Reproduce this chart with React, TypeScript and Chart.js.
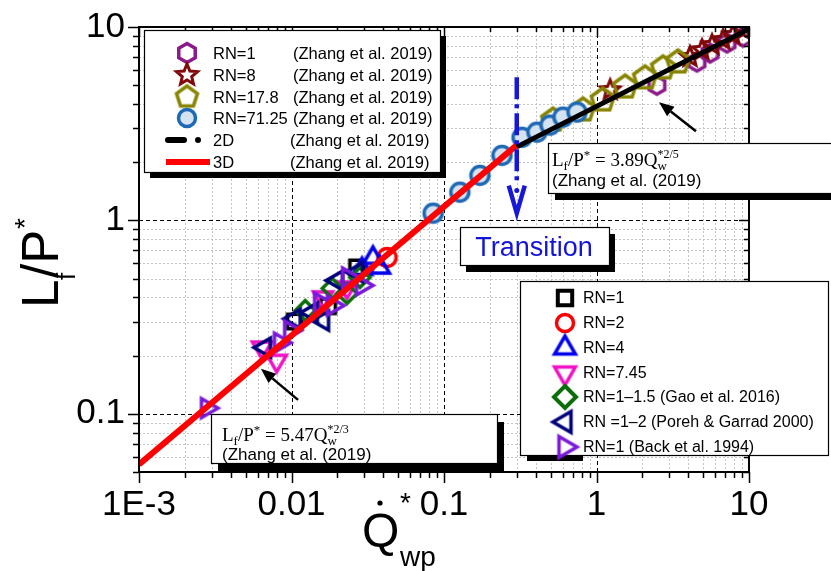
import React, { useEffect, useRef } from 'react';
import { Chart, registerables } from 'chart.js';

Chart.register(...registerables);

const W = 831;
const H = 571;
const SANS = "'Liberation Sans', Arial, Helvetica, sans-serif";
const SERIF = "'Liberation Serif', 'Times New Roman', serif";

// ---- axis ticks ----
const xMajorTicks = [0.001, 0.01, 0.1, 1, 10];
const xMajorLabels = ['1E-3', '0.01', '0.1', '1', '10'];
const yMajorTicks = [0.1, 1, 10];
const yMajorLabels = ['0.1', '1', '10'];

// ---- Zhang et al. 2019 ----
const zhangRN1X = [2.49, 4.56, 5.55, 7.17, 9.14];
const zhangRN1Y = [5.0, 6.59, 7.33, 8.26, 8.87];
const zhangRN8X = [1.23, 4.1, 4.92, 5.72, 6.76, 7.86, 9.14];
const zhangRN8Y = [4.72, 7.0, 7.6, 8.07, 8.57, 9.09, 9.65];
const zhangRN178X = [0.519, 0.815, 1.1, 1.54, 2.08, 2.73, 3.42];
const zhangRN178Y = [3.3, 3.72, 4.19, 4.89, 5.45, 6.14, 6.59];
const zhangRN7125X = [0.0848, 0.127, 0.172, 0.24, 0.325, 0.407, 0.496, 0.603, 0.745];
const zhangRN7125Y = [1.09, 1.4, 1.71, 2.17, 2.69, 2.86, 3.11, 3.42, 3.63];

// ---- fitted lines (end points) ----
const line3DX = [0.001, 0.3];
const line3DY = [0.0547, 2.45];
const line2DX = [0.3, 10];
const line2DY = [2.4, 9.77];
const transitionX = [0.3, 0.3];
const transitionY = [5.5, 1.55];
const transitionTipY = 1.09;

// ---- other experiments ----
const rn1X = [0.0105, 0.0174, 0.0269];
const rn1Y = [0.3, 0.36, 0.571];
const rn2X = [0.0423];
const rn2Y = [0.643];
const rn4X = [0.029, 0.0342, 0.038];
const rn4Y = [0.56, 0.64, 0.57];
const rn745X = [0.0064, 0.008, 0.0161, 0.0231];
const rn745Y = [0.22, 0.188, 0.4, 0.45];
const gaoX = [0.0123, 0.0185, 0.0231, 0.0281];
const gaoY = [0.342, 0.445, 0.419, 0.507];
const porehX = [0.0067, 0.0105, 0.0136, 0.0161, 0.0199, 0.0269];
const porehY = [0.22, 0.31, 0.334, 0.303, 0.489, 0.54];
const backX = [0.00279, 0.0084, 0.0098, 0.0154, 0.0187, 0.0235, 0.029];
const backY = [0.107, 0.233, 0.269, 0.376, 0.363, 0.507, 0.461];

// ---- annotation arrows (data coordinates: tail -> tip) ----
const arrow2DTail = [4.49, 2.89];
const arrow2DTip = [2.57, 4.08];
const arrow3DTail = [0.01104, 0.118];
const arrow3DTip = [0.0063, 0.171];

type Shape = 'square' | 'circle' | 'up' | 'down' | 'left' | 'right' | 'diamond' | 'hexagon' | 'pentagon' | 'star';

function shapePath(ctx: CanvasRenderingContext2D, shape: Shape, r: number) {
  ctx.beginPath();
  const poly = (n: number, rot: number) => {
    for (let i = 0; i < n; i++) {
      const a = rot + (i * 2 * Math.PI) / n;
      const px = r * Math.cos(a);
      const py = r * Math.sin(a);
      if (i === 0) ctx.moveTo(px, py);
      else ctx.lineTo(px, py);
    }
    ctx.closePath();
  };
  switch (shape) {
    case 'square':
      ctx.rect(-r * 0.8, -r * 0.8, r * 1.6, r * 1.6);
      break;
    case 'circle':
      ctx.arc(0, 0, r, 0, Math.PI * 2);
      break;
    case 'up':
      poly(3, -Math.PI / 2);
      break;
    case 'down':
      poly(3, Math.PI / 2);
      break;
    case 'left':
      poly(3, Math.PI);
      break;
    case 'right':
      poly(3, 0);
      break;
    case 'diamond':
      poly(4, -Math.PI / 2);
      break;
    case 'hexagon':
      poly(6, -Math.PI / 2);
      break;
    case 'pentagon':
      poly(5, -Math.PI / 2);
      break;
    case 'star':
      for (let i = 0; i < 10; i++) {
        const a = -Math.PI / 2 + (i * Math.PI) / 5;
        const rr = i % 2 === 0 ? r : r * 0.45;
        const px = rr * Math.cos(a);
        const py = rr * Math.sin(a);
        if (i === 0) ctx.moveTo(px, py);
        else ctx.lineTo(px, py);
      }
      ctx.closePath();
      break;
  }
}

function makeMarker(shape: Shape, color: string, r: number, lw: number, fill?: string) {
  const pad = lw + 3;
  const size = Math.ceil(2 * (r + pad));
  const c = document.createElement('canvas');
  c.width = size;
  c.height = size;
  const ctx = c.getContext('2d')!;
  ctx.translate(size / 2, size / 2);
  shapePath(ctx, shape, r);
  if (fill) {
    ctx.fillStyle = fill;
    ctx.fill();
  }
  ctx.lineWidth = lw;
  ctx.strokeStyle = color;
  ctx.lineJoin = 'miter';
  ctx.stroke();
  return c;
}

function labelFor(v: number, ticks: number[], labels: string[]) {
  const i = ticks.findIndex((t) => Math.abs(Math.log10(t) - Math.log10(v)) < 1e-6);
  return i >= 0 ? labels[i] : '';
}

function logValues(min: number, max: number) {
  const out: { v: number; major: boolean }[] = [];
  for (let e = Math.floor(Math.log10(min)) - 1; e <= Math.ceil(Math.log10(max)); e++) {
    for (let k = 1; k <= 9; k++) {
      const v = k * Math.pow(10, e);
      if (v >= min * 0.9999 && v <= max * 1.0001) out.push({ v, major: k === 1 });
    }
  }
  return out;
}

const pts = (xs: number[], ys: number[]) => xs.map((x, i) => ({ x, y: ys[i] }));

export default function App() {
  const ref = useRef<HTMLCanvasElement>(null);

  useEffect(() => {
    const canvas = ref.current!;

    const M = {
      zRN1: makeMarker('hexagon', '#8b1a8b', 9, 3.5),
      zRN8: makeMarker('star', '#7f0a0a', 10, 3),
      zRN178: makeMarker('pentagon', '#878500', 12, 3.5),
      zRN7125: makeMarker('circle', '#1f69b4', 9, 3.5, '#d4e2f1'),
      rn1: makeMarker('square', '#000000', 9, 3.5),
      rn2: makeMarker('circle', '#ff0000', 9, 3.5),
      rn4: makeMarker('up', '#0000f0', 11, 3.5),
      rn745: makeMarker('down', '#f012c4', 11, 3.5),
      gao: makeMarker('diamond', '#0b6e0b', 10, 3.5),
      poreh: makeMarker('left', '#00007a', 11, 3.5),
      back: makeMarker('right', '#7a1ad8', 11, 3.5),
    };
    const L = {
      zRN1: makeMarker('hexagon', '#8b1a8b', 9.5, 3.5),
      zRN8: makeMarker('star', '#7f0a0a', 11, 3),
      zRN178: makeMarker('pentagon', '#878500', 11, 3.5),
      zRN7125: makeMarker('circle', '#1f69b4', 8.5, 3.5, '#d4e2f1'),
      rn1: makeMarker('square', '#000000', 9, 4),
      rn2: makeMarker('circle', '#ff0000', 8.5, 3.5),
      rn4: makeMarker('up', '#0000f0', 12, 3.5),
      rn745: makeMarker('down', '#f012c4', 12, 3.5),
      gao: makeMarker('diamond', '#0b6e0b', 11, 4),
      poreh: makeMarker('left', '#00007a', 12, 3.5),
      back: makeMarker('right', '#7a1ad8', 12, 3.5),
    };

    const lineDs = (label: string, xs: number[], ys: number[], color: string, width: number, dash: number[] = []) => ({
      type: 'line' as const,
      label,
      data: pts(xs, ys),
      borderColor: color,
      borderWidth: width,
      borderDash: dash,
      pointRadius: 0,
      fill: false,
      tension: 0,
      order: 0,
    });
    const scatterDs = (label: string, xs: number[], ys: number[], img: HTMLCanvasElement) => ({
      type: 'scatter' as const,
      label,
      data: pts(xs, ys),
      pointStyle: img,
      pointRadius: 10,
      pointHoverRadius: 10,
      order: 1,
    });

    const decor = {
      id: 'decor',
      beforeDatasetsDraw(chart: any) {
        const { ctx, chartArea: a, scales } = chart;
        const xs = scales.x;
        const ys = scales.y;
        ctx.save();
        ctx.lineWidth = 1;
        const drawGrid = (major: boolean) => {
          ctx.strokeStyle = major ? '#000000' : '#c4c4c4';
          ctx.setLineDash(major ? [4, 3] : [2, 2]);
          for (const t of logValues(xs.min, xs.max)) {
            if (t.major !== major) continue;
            const p = Math.round(xs.getPixelForValue(t.v)) + 0.5;
            if (p <= a.left + 2 || p >= a.right - 2) continue;
            ctx.beginPath();
            ctx.moveTo(p, a.top);
            ctx.lineTo(p, a.bottom);
            ctx.stroke();
          }
          for (const t of logValues(ys.min, ys.max)) {
            if (t.major !== major) continue;
            const p = Math.round(ys.getPixelForValue(t.v)) + 0.5;
            if (p <= a.top + 2 || p >= a.bottom - 2) continue;
            ctx.beginPath();
            ctx.moveTo(a.left, p);
            ctx.lineTo(a.right, p);
            ctx.stroke();
          }
        };
        drawGrid(false);
        drawGrid(true);
        ctx.restore();
      },
      afterDraw(chart: any) {
        const { ctx, chartArea: a, scales } = chart;
        const xs = scales.x;
        const ys = scales.y;
        ctx.save();
        ctx.setLineDash([]);

        // transition arrow head
        const tx = xs.getPixelForValue(transitionX[0]);
        const tTop = ys.getPixelForValue(transitionY[1]) + 2;
        const tTip = ys.getPixelForValue(transitionTipY);
        ctx.strokeStyle = '#1717d8';
        ctx.fillStyle = '#1717d8';
        ctx.lineWidth = 4.5;
        ctx.lineJoin = 'miter';
        ctx.beginPath();
        ctx.moveTo(tx - 8, tTop);
        ctx.lineTo(tx, tTip);
        ctx.lineTo(tx + 8, tTop);
        ctx.stroke();
        ctx.beginPath();
        ctx.arc(tx, tTop + 5, 2.5, 0, Math.PI * 2);
        ctx.fill();

        // frame
        ctx.strokeStyle = '#000';
        ctx.lineWidth = 2;
        ctx.strokeRect(a.left, a.top, a.right - a.left, a.bottom - a.top);

        // tick marks
        ctx.lineWidth = 1.5;
        ctx.beginPath();
        for (const t of logValues(xs.min, xs.max)) {
          const p = Math.round(xs.getPixelForValue(t.v)) + 0.5;
          ctx.moveTo(p, a.bottom);
          ctx.lineTo(p, a.bottom + (t.major ? 11 : 6));
          ctx.moveTo(p, a.top);
          ctx.lineTo(p, a.top + (t.major ? 10 : 5));
        }
        for (const t of logValues(ys.min, ys.max)) {
          const p = Math.round(ys.getPixelForValue(t.v)) + 0.5;
          ctx.moveTo(a.left, p);
          ctx.lineTo(a.left - (t.major ? 11 : 6), p);
          ctx.moveTo(a.right, p);
          ctx.lineTo(a.right - (t.major ? 10 : 5), p);
        }
        ctx.stroke();

        const box = (x: number, y: number, w: number, h: number, sx: number, sy: number) => {
          ctx.fillStyle = '#000';
          ctx.fillRect(x + sx, y + sy, w, h);
          ctx.fillStyle = '#fff';
          ctx.fillRect(x, y, w, h);
          ctx.strokeStyle = '#000';
          ctx.lineWidth = 1.2;
          ctx.strokeRect(x + 0.5, y + 0.5, w, h);
        };

        // arrows
        const arrow = (tail: number[], tip: number[]) => {
          const x1 = xs.getPixelForValue(tail[0]);
          const y1 = ys.getPixelForValue(tail[1]);
          const x2 = xs.getPixelForValue(tip[0]);
          const y2 = ys.getPixelForValue(tip[1]);
          const ang = Math.atan2(y2 - y1, x2 - x1);
          const hl = 15;
          const hw = 6;
          const bx = x2 - hl * Math.cos(ang);
          const by = y2 - hl * Math.sin(ang);
          ctx.strokeStyle = '#000';
          ctx.fillStyle = '#000';
          ctx.lineWidth = 2.5;
          ctx.beginPath();
          ctx.moveTo(x1, y1);
          ctx.lineTo(bx, by);
          ctx.stroke();
          ctx.beginPath();
          ctx.moveTo(x2, y2);
          ctx.lineTo(bx + hw * Math.sin(ang), by - hw * Math.cos(ang));
          ctx.lineTo(bx - hw * Math.sin(ang), by + hw * Math.cos(ang));
          ctx.closePath();
          ctx.fill();
        };
        arrow(arrow2DTail, arrow2DTip);
        arrow(arrow3DTail, arrow3DTip);

        const rich = (x: number, y: number, parts: [string, number, number, string, boolean?][]) => {
          let cx = x;
          ctx.fillStyle = '#000';
          ctx.textAlign = 'left';
          ctx.textBaseline = 'alphabetic';
          for (const [text, size, dy, fam, noAdv] of parts) {
            ctx.font = `${size}px ${fam}`;
            ctx.fillText(text, cx, y + dy);
            if (!noAdv) cx += ctx.measureText(text).width;
          }
        };

        // equation box 2D
        box(548, 143, 300, 50, 7, 7);
        rich(552, 166, [
          ['L', 19, 0, SERIF],
          ['f', 13, 4, SERIF],
          ['/P', 19, 0, SERIF],
          ['*', 13, -7, SERIF],
          [' = 3.89Q', 19, 0, SERIF],
          ['*2/5', 12, -8, SERIF, true],
          ['w', 13, 4, SERIF],
        ]);
        rich(552, 186, [['(Zhang et al. (2019)', 17, 0, SANS]]);

        // equation box 3D
        box(211, 414, 286, 49, 7, 8);
        rich(222, 441, [
          ['L', 19, 0, SERIF],
          ['f', 13, 4, SERIF],
          ['/P', 19, 0, SERIF],
          ['*', 13, -7, SERIF],
          [' = 5.47Q', 19, 0, SERIF],
          ['*2/3', 12, -8, SERIF, true],
          ['w', 13, 4, SERIF],
        ]);
        rich(222, 460, [['(Zhang et al. (2019)', 17, 0, SANS]]);

        // transition box
        box(460, 227, 149, 38, 6, 7);
        ctx.fillStyle = '#1414d6';
        ctx.font = `27px ${SANS}`;
        ctx.textAlign = 'center';
        ctx.textBaseline = 'alphabetic';
        ctx.fillText('Transition', 534, 256);

        const drawImg = (img: HTMLCanvasElement, cx: number, cy: number) => {
          ctx.drawImage(img, cx - img.width / 2, cy - img.height / 2);
        };

        // legend 1
        box(144, 30, 296, 142, 6, 6);
        const rows1 = [53, 75, 97, 118, 140, 162];
        const mk1 = [L.zRN1, L.zRN8, L.zRN178, L.zRN7125];
        const txt1 = ['RN=1', 'RN=8', 'RN=17.8', 'RN=71.25', '2D', '3D'];
        ctx.font = `16.5px ${SANS}`;
        ctx.textAlign = 'left';
        ctx.textBaseline = 'middle';
        rows1.forEach((ry, i) => {
          if (i < 4) drawImg(mk1[i], 187, ry);
          ctx.fillStyle = '#000';
          ctx.fillText(txt1[i], 213, ry + 1);
          ctx.fillText('(Zhang et al. 2019)', i < 4 ? 293 : 290, ry + 1);
        });
        ctx.lineCap = 'round';
        ctx.strokeStyle = '#000';
        ctx.lineWidth = 6;
        ctx.beginPath();
        ctx.moveTo(168, rows1[4]);
        ctx.lineTo(184, rows1[4]);
        ctx.stroke();
        ctx.fillStyle = '#000';
        ctx.beginPath();
        ctx.arc(198, rows1[4], 3, 0, Math.PI * 2);
        ctx.fill();
        ctx.lineCap = 'butt';
        ctx.strokeStyle = '#ff0000';
        ctx.lineWidth = 6;
        ctx.beginPath();
        ctx.moveTo(166, rows1[5]);
        ctx.lineTo(210, rows1[5]);
        ctx.stroke();

        // legend 2
        ctx.fillStyle = '#000';
        ctx.fillRect(527, 455, 56, 6);
        box(520, 281, 308, 174, 0, 0);
        const rows2 = [298, 323, 348, 373, 397, 422, 447];
        const mk2 = [L.rn1, L.rn2, L.rn4, L.rn745, L.gao, L.poreh, L.back];
        const txt2 = [
          'RN=1',
          'RN=2',
          'RN=4',
          'RN=7.45',
          'RN=1\u20131.5 (Gao et al. 2016)',
          'RN =1\u20132 (Poreh & Garrad 2000)',
          'RN=1 (Back et al. 1994)',
        ];
        ctx.font = `16px ${SANS}`;
        ctx.textAlign = 'left';
        ctx.textBaseline = 'middle';
        rows2.forEach((ry, i) => {
          drawImg(mk2[i], 565, ry);
          ctx.fillStyle = '#000';
          ctx.fillText(txt2[i], 583, ry + 1);
        });

        // axis titles
        ctx.fillStyle = '#000';
        ctx.textAlign = 'left';
        ctx.textBaseline = 'alphabetic';
        ctx.save();
        ctx.translate(58, 308);
        ctx.rotate(-Math.PI / 2);
        ctx.font = `51px ${SANS}`;
        ctx.fillText('L', 0, 0);
        ctx.font = `26px ${SANS}`;
        ctx.fillText('f', 28, 17);
        ctx.font = `51px ${SANS}`;
        ctx.fillText('/P', 30, 0);
        ctx.font = `28px ${SANS}`;
        ctx.fillText('*', 79, -24);
        ctx.restore();

        ctx.font = `48px ${SANS}`;
        ctx.fillText('Q', 362, 547);
        ctx.beginPath();
        ctx.arc(380, 503, 2.6, 0, Math.PI * 2);
        ctx.fill();
        ctx.font = `28px ${SANS}`;
        ctx.fillText('*', 400, 512);
        ctx.fillText('wp', 400, 566);

        ctx.restore();
      },
    };

    const chart = new Chart(canvas, {
      type: 'scatter',
      data: {
        datasets: [
          lineDs('transition', transitionX, transitionY, '#1717d8', 4.5, [22, 5, 4, 5]),
          lineDs('2D (Zhang et al. 2019)', line2DX, line2DY, '#000000', 5),
          lineDs('3D (Zhang et al. 2019)', line3DX, line3DY, '#ff0000', 6),
          scatterDs('RN=1 (Back et al. 1994)', backX, backY, M.back),
          scatterDs('RN =1–2 (Poreh & Garrad 2000)', porehX, porehY, M.poreh),
          scatterDs('RN=1–1.5 (Gao et al. 2016)', gaoX, gaoY, M.gao),
          scatterDs('RN=7.45', rn745X, rn745Y, M.rn745),
          scatterDs('RN=4', rn4X, rn4Y, M.rn4),
          scatterDs('RN=2', rn2X, rn2Y, M.rn2),
          scatterDs('RN=1', rn1X, rn1Y, M.rn1),
          scatterDs('RN=71.25 (Zhang et al. 2019)', zhangRN7125X, zhangRN7125Y, M.zRN7125),
          scatterDs('RN=17.8 (Zhang et al. 2019)', zhangRN178X, zhangRN178Y, M.zRN178),
          scatterDs('RN=8 (Zhang et al. 2019)', zhangRN8X, zhangRN8Y, M.zRN8),
          scatterDs('RN=1 (Zhang et al. 2019)', zhangRN1X, zhangRN1Y, M.zRN1),
        ] as any,
      },
      options: {
        responsive: false,
        animation: false,
        events: [],
        layout: { padding: { left: 0, right: 82, top: 27, bottom: 0 } },
        plugins: { legend: { display: false }, tooltip: { enabled: false } },
        scales: {
          x: {
            type: 'logarithmic',
            min: 0.001,
            max: 10,
            grid: { display: false, drawTicks: false },
            border: { display: false },
            ticks: {
              autoSkip: false,
              maxRotation: 0,
              minRotation: 0,
              padding: 12,
              color: '#000',
              font: { family: SANS, size: 35 },
              callback: (v: any) => labelFor(Number(v), xMajorTicks, xMajorLabels),
            },
            afterFit: (s: any) => {
              s.height = 99;
              s.paddingLeft = 0;
              s.paddingRight = 0;
            },
          },
          y: {
            type: 'logarithmic',
            min: 0.05,
            max: 10,
            grid: { display: false, drawTicks: false },
            border: { display: false },
            ticks: {
              autoSkip: false,
              padding: 14,
              color: '#000',
              font: { family: SANS, size: 35 },
              callback: (v: any) => labelFor(Number(v), yMajorTicks, yMajorLabels),
            },
            afterFit: (s: any) => {
              s.width = 139;
              s.paddingTop = 0;
              s.paddingBottom = 0;
            },
          },
        },
      } as any,
      plugins: [decor],
    });

    return () => chart.destroy();
  }, []);

  return (
    <div style={{ position: 'absolute', left: 0, top: 0, width: W, height: H, background: '#fff' }}>
      <canvas ref={ref} width={W} height={H} style={{ display: 'block', width: W, height: H }} />
    </div>
  );
}
